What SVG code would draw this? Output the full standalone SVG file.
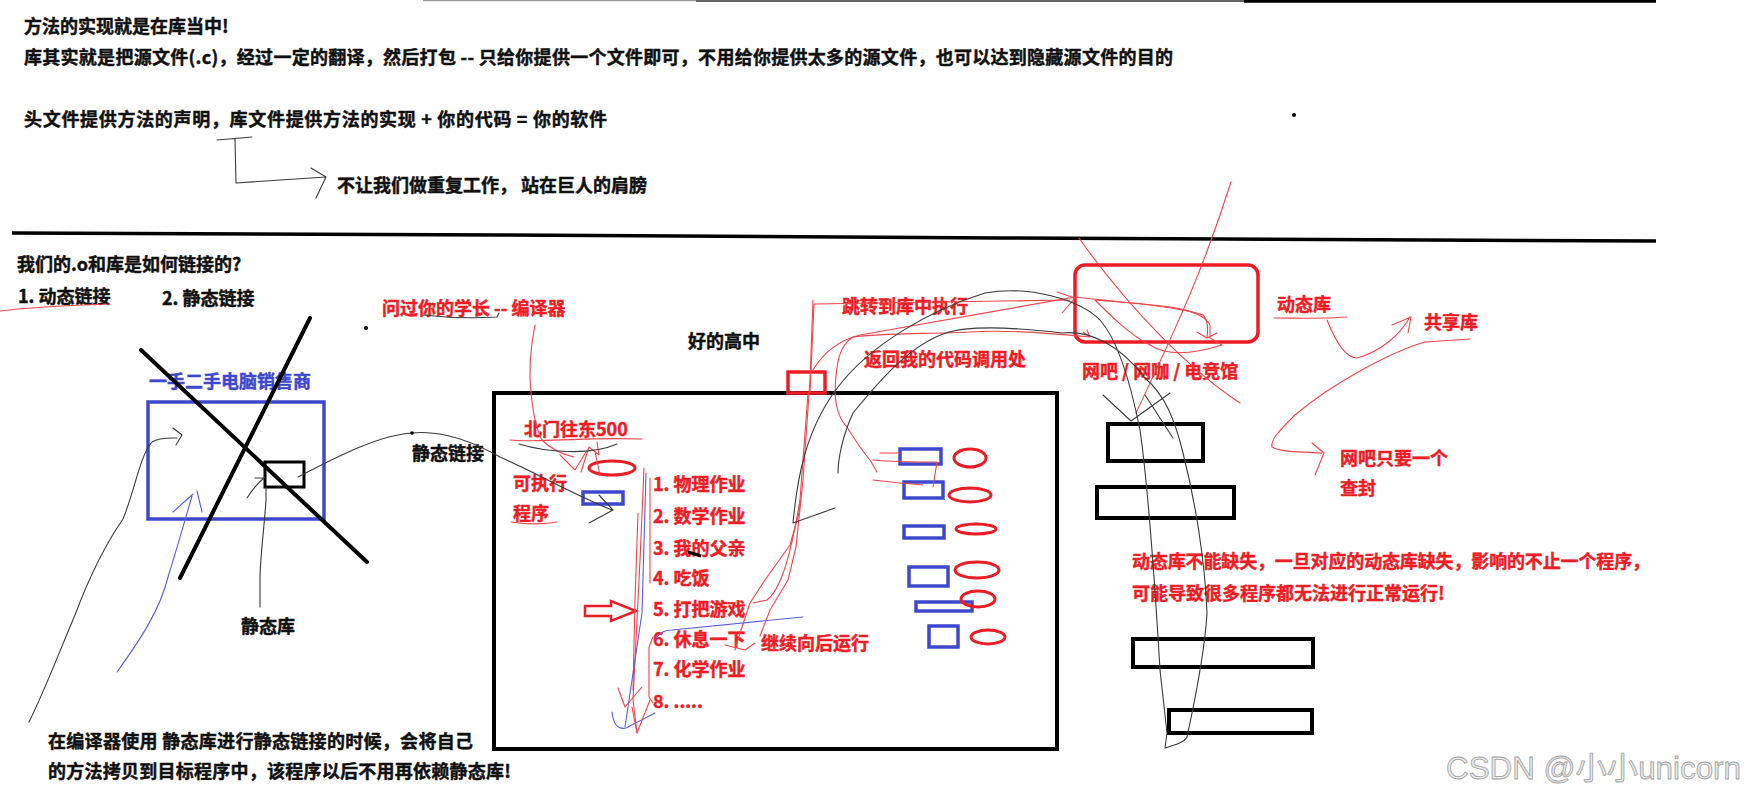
<svg xmlns="http://www.w3.org/2000/svg" width="1747" height="797" viewBox="0 0 1747 797">
<style>
.t{font-family:"Noto Sans CJK SC","Noto Sans CJK JP",sans-serif;font-weight:700;font-size:18px;stroke-width:0.45px;paint-order:stroke}
.k{fill:#111;stroke:#111}
.r{fill:#EE1C25;stroke:#EE1C25}
.b{fill:#3F48CC;stroke:#3F48CC}
.kb{fill:none;stroke:#000;stroke-width:4}
.bb{fill:none;stroke:#3F48CC;stroke-width:3.5}
.rb{fill:none;stroke:#ED1C24;stroke-width:3.5}
.re{fill:none;stroke:#ED1C24;stroke-width:3}
.gl{fill:none;stroke:#3a3a3a;stroke-width:1.1;stroke-linecap:round;stroke-linejoin:round}
.rl{fill:none;stroke:#F0444B;stroke-width:1.1;stroke-linecap:round;stroke-linejoin:round}
.bl{fill:none;stroke:#5560E0;stroke-width:1.1;stroke-linecap:round;stroke-linejoin:round}
.thick{fill:none;stroke:#000;stroke-width:4;stroke-linecap:round}
</style>
<rect width="1747" height="797" fill="#fff"/>

<!-- rules -->
<g id="rules">
  <line x1="423" y1="0.5" x2="696" y2="0.5" stroke="#9a9a9a" stroke-width="1.5"/>
  <line x1="696" y1="1" x2="1244" y2="1" stroke="#666" stroke-width="2"/>
  <line x1="1244" y1="1.3" x2="1656" y2="1.3" stroke="#000" stroke-width="3"/>
  <polyline points="12,233 500,235 1000,238 1656,241" fill="none" stroke="#000" stroke-width="3.5"/>
</g>

<!-- header text -->
<g id="header">
  <text class="t k" x="24" y="33">方法的实现就是在库当中!</text>
  <text class="t k" x="24" y="64" textLength="1149" lengthAdjust="spacing">库其实就是把源文件(.c)，经过一定的翻译，然后打包 -- 只给你提供一个文件即可，不用给你提供太多的源文件，也可以达到隐藏源文件的目的</text>
  <text class="t k" x="24" y="126" textLength="583" lengthAdjust="spacing">头文件提供方法的声明，库文件提供方法的实现  + 你的代码 = 你的软件</text>
  <text class="t k" x="337" y="192">不让我们做重复工作， 站在巨人的肩膀</text>
  <text class="t k" x="17" y="271">我们的.o和库是如何链接的?</text>
  <text class="t k" x="18" y="303">1. 动态链接</text>
  <text class="t k" x="162" y="305">2. 静态链接</text>
</g>

<!-- static library section -->
<g id="static-seller">
  <text class="t b" x="149" y="388">一手二手电脑销售商</text>
  <rect class="bb" x="148" y="402" width="176" height="117"/>
</g>
<g id="static-lib-box">
  <rect x="265" y="462" width="39" height="25" fill="none" stroke="#000" stroke-width="3"/>
</g>
<g id="cross">
  <line class="thick" x1="141" y1="350" x2="367" y2="562"/>
  <line class="thick" x1="310" y1="318" x2="180" y2="578"/>
</g>
<g id="static-lib-label"><text class="t k" x="241" y="633">静态库</text></g>
<g id="static-link-label"><text class="t k" x="412" y="460">静态链接</text></g>
<g id="bottom-note">
  <text class="t k" x="48" y="748" textLength="425" lengthAdjust="spacing">在编译器使用 静态库进行静态链接的时候，会将自己</text>
  <text class="t k" x="48" y="778" textLength="463" lengthAdjust="spacing">的方法拷贝到目标程序中，该程序以后不用再依赖静态库!</text>
</g>

<!-- middle: program / school -->
<g id="compiler-label"><text class="t r" x="382" y="315">问过你的学长 -- 编译器</text></g>
<g id="school-label"><text class="t k" x="688" y="348">好的高中</text></g>
<g id="program-box"><rect class="kb" x="494" y="393" width="563" height="356"/></g>
<g id="call-site"><rect class="rb" x="788" y="372" width="37" height="21"/></g>
<g id="north-gate">
  <text class="t r" x="524" y="436">北门往东500</text>
  <ellipse class="re" cx="612" cy="468" rx="23" ry="7"/>
</g>
<g id="exe">
  <text class="t r" x="513" y="490">可执行</text>
  <text class="t r" x="513" y="520">程序</text>
  <rect class="bb" x="583" y="492" width="40" height="12" stroke-width="3"/>
</g>
<g id="todo-list">
  <text class="t r" x="653" y="491">1. 物理作业</text>
  <text class="t r" x="653" y="523">2. 数学作业</text>
  <text class="t r" x="653" y="555">3. 我的父亲</text>
  <text class="t r" x="653" y="585">4. 吃饭</text>
  <text class="t r" x="653" y="616">5. 打把游戏</text>
  <text class="t r" x="653" y="646">6. 休息一下</text>
  <text class="t r" x="653" y="676">7. 化学作业</text>
  <text class="t r" x="653" y="708">8.  .....</text>
  <line x1="688" y1="552" x2="701" y2="556" stroke="#000" stroke-width="3"/>
</g>
<g id="pointer-arrow">
  <polygon points="585,606 611,606 611,601 636,611 611,621 611,616 585,616" fill="#fff" stroke="#ED1C24" stroke-width="2.5" stroke-linejoin="miter"/>
</g>
<g id="continue-label"><text class="t r" x="761" y="650">继续向后运行</text></g>
<g id="jump-label"><text class="t r" x="842" y="313">跳转到库中执行</text></g>
<g id="return-label"><text class="t r" x="864" y="366">返回我的代码调用处</text></g>

<g id="lib-slots">
  <rect class="bb" x="900" y="449" width="41" height="15" stroke-width="3"/>
  <rect class="bb" x="904" y="482" width="39" height="16" stroke-width="3"/>
  <rect class="bb" x="904" y="526" width="40" height="12" stroke-width="3"/>
  <rect class="bb" x="909" y="567" width="39" height="19" stroke-width="3"/>
  <rect class="bb" x="916" y="602" width="56" height="9" stroke-width="3"/>
  <rect class="bb" x="929" y="626" width="29" height="21" stroke-width="3"/>
  <ellipse class="re" cx="970" cy="458" rx="16" ry="9"/>
  <ellipse class="re" cx="970" cy="495" rx="21" ry="7"/>
  <ellipse class="re" cx="976" cy="529" rx="20" ry="5"/>
  <ellipse class="re" cx="977" cy="570" rx="22" ry="8"/>
  <ellipse class="re" cx="978" cy="599" rx="17" ry="8"/>
  <ellipse class="re" cx="988" cy="637" rx="17" ry="7"/>
</g>

<!-- right: dynamic library -->
<g id="dyn-lib"><rect class="rb" x="1075" y="265" width="183" height="77" rx="10"/></g>
<g id="netbar-label"><text class="t r" x="1082" y="378">网吧 / 网咖 / 电竞馆</text></g>
<g id="dyn-label"><text class="t r" x="1277" y="311">动态库</text></g>
<g id="shared-label"><text class="t r" x="1424" y="329">共享库</text></g>
<g id="netbar-note">
  <text class="t r" x="1340" y="465">网吧只要一个</text>
  <text class="t r" x="1340" y="495">查封</text>
</g>
<g id="programs">
  <rect class="kb" x="1108" y="424" width="95" height="37"/>
  <rect class="kb" x="1097" y="487" width="137" height="31"/>
  <rect class="kb" x="1133" y="639" width="180" height="28"/>
  <rect class="kb" x="1169" y="710" width="143" height="23"/>
</g>
<g id="dyn-note">
  <text class="t r" x="1132" y="568" textLength="518" lengthAdjust="spacing">动态库不能缺失，一旦对应的动态库缺失，影响的不止一个程序，</text>
  <text class="t r" x="1132" y="600">可能导致很多程序都无法进行正常运行!</text>
</g>
<g id="watermark">
  <text x="1446" y="779" font-family="'Liberation Sans Narrow','Liberation Sans','Noto Sans CJK SC',sans-serif" font-size="31" textLength="295" lengthAdjust="spacingAndGlyphs" fill="#e8e8e8" stroke="#a0a0a0" stroke-width="0.8">CSDN @小小unicorn</text>
</g>

<!-- hand-drawn connectors -->
<g id="connectors">
  <path class="gl" d="M217,140 L252,137 M235,139 L236,183 L326,177 M311,168 L326,177 L316,198"/>
  <circle cx="1294" cy="115" r="2" fill="#000"/>
  <circle cx="366" cy="328" r="2" fill="#000"/>
  <path class="rl" d="M0,311 C40,306 80,305 110,304"/>
  <path class="gl" d="M423,315 C450,318 480,318 497,317 L499,313"/>
  <path class="gl" d="M29,722 C45,690 60,650 75,615 C90,575 105,545 123,519 C135,490 140,455 152,442 C160,437 170,438 177,438 M173,428 L182,435 L176,445"/>
  <path class="bl" d="M117,672 C140,640 160,610 168,577 C178,545 185,520 192,496 M173,512 L193,494 M197,491 L202,512"/>
  <path class="gl" d="M247,498 C252,490 258,483 265,477 M255,478 L264,478"/>
  <path class="gl" stroke="#777" d="M266,487 L266,500 C264,530 260,560 260,578 L260,607"/>
  <path class="gl" d="M298,477 C340,455 380,435 412,433 C440,430 470,440 500,457 C540,475 575,495 612,510 M599,495 L613,510 L589,523"/>
  <circle cx="412" cy="433" r="1.8" fill="#000"/>
  <path class="rl" d="M535,325 C530,350 529,375 531,393 C533,415 537,430 542,440 C552,450 565,455 574,457"/>
  <path class="rl" d="M510,440 C540,443 580,437 642,439 M560,455 L575,470 L586,452 M581,472 L589,447 L599,455 L597,442 M595,452 L600,475"/>
  <path class="gl" d="M519,444 C545,452 590,456 617,444"/>
  <path class="rl" d="M511,522 C530,525 545,524 557,522"/>
  <path class="rl" d="M644,468 L640,560 L636,640 L633,700 L637,733"/>
  <path class="rl" d="M638,513 L635,600 L633,690"/>
  <path class="rl" d="M650,478 L650,583"/>
  <path class="bl" d="M646,473 L642,613 L632,680 L625,727"/>
  <path class="rl" d="M653,637 L649,647 L649,697 L653,703"/>
  <path class="bl" d="M612,712 Q614,731 626,728 L655,713"/>
  <path class="rl" d="M618,688 L625,707 L642,687 M632,707 L637,733 L650,700"/>
  <path class="bl" d="M655,640 C660,632 665,630 672,630 L803,617"/>
  <path class="rl" d="M810,393 L814,304 L1070,300 M1057,292 L1075,298 L1062,313"/>
  <path class="rl" d="M813,300 L810,380 L803,480 L796,547 L788,580 L770,610 L760,636"/>
  <path class="rl" d="M808,393 L799,513 L790,545 L765,580 L750,603 L740,633 L735,650"/>
  <path class="rl" d="M800,500 C790,560 780,590 767,600 L753,603 M725,645 L745,650 L755,643"/>
  <path class="rl" d="M813,370 C825,350 840,340 860,335 C900,328 960,318 1075,297 C1120,302 1180,307 1203,315 C1208,320 1208,330 1207,337 M1197,332 L1207,338 L1217,333"/>
  <path class="rl" d="M1090,337 C1050,333 1000,330 970,332 C930,334 880,333 853,337 C840,345 836,360 835,393 C836,410 840,420 847,427 C855,440 863,452 870,460 L877,472 M1083,332 L1090,337 L1087,330"/>
  <path class="rl" d="M880,453 L900,453 M873,460 C895,462 920,462 937,462 L933,487 M873,480 C890,482 910,484 923,485"/>
  <path class="rl" d="M1095,300 C1150,305 1200,305 1210,325 L1210,338 L1222,345 C1200,352 1170,358 1150,345 C1130,335 1110,315 1095,300"/>
  <path class="rl" d="M1231,182 C1200,280 1170,340 1136,413"/>
  <path class="rl" d="M1079,238 C1130,310 1190,370 1240,403"/>
  <path class="gl" stroke="#555" d="M835,508 L793,523 C797,480 805,430 838,387 C870,345 930,310 985,293 C1030,285 1080,300 1100,320 C1118,340 1130,380 1140,430 C1150,500 1157,620 1160,670 L1167,733 L1165,748 C1175,745 1185,742 1187,737 C1195,700 1205,650 1207,613 C1205,560 1195,500 1183,453 C1175,420 1165,395 1145,378 C1120,345 1090,330 1062,333 C1020,328 970,325 946,333 C910,345 880,380 853,413 C842,437 838,460 838,473"/>
  <path class="gl" stroke="#555" d="M1103,395 L1131,421 L1170,393 M1145,395 L1173,438"/>
  <path class="rl" d="M1274,318 C1300,318 1320,319 1347,317"/>
  <path class="rl" d="M1327,320 C1335,340 1345,358 1357,358 C1380,352 1400,335 1410,317 M1392,325 L1411,317 L1408,333"/>
  <path class="rl" d="M1425,342 L1470,339"/>
  <path class="rl" d="M1425,342 C1390,352 1330,385 1295,415 C1280,430 1270,440 1272,447 C1280,452 1300,452 1322,453 M1312,443 L1324,453 L1315,475"/>
</g>
</svg>
